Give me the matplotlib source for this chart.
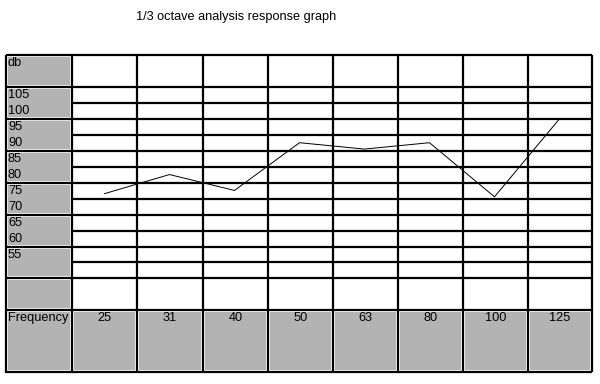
import matplotlib.pyplot as plt
from matplotlib.patches import Rectangle

# donnees du graphe
frequencies = ["25", "31", "40", "50", "63", "80", "100", "125"]
db_labels = [105, 100, 95, 90, 85, 80, 75, 70, 65, 60, 55]
response = [74, 80, 75, 90, 88, 90, 73, 97.5]

GRAY = "#b3b3b3"
FS = 9.2
# bords des colonnes / lignes du tableau (pixels)
x_cols = [6, 72, 137, 203, 268, 333, 398, 463, 528, 592]
y_rows = [55, 87, 103, 119, 135, 151, 167, 183, 199, 215, 231, 247, 262, 278, 310, 372]
db_top, db_bottom = 107.5, 47.5

plt.rcParams["font.family"] = ["Liberation Sans", "DejaVu Sans"]

fig = plt.figure(figsize=(6, 3.84), dpi=100)
ax = fig.add_axes([0, 0, 1, 1])
ax.set_xlim(0, 600)
ax.set_ylim(384, 0)
ax.axis("off")

# cellules grises de la colonne des labels
gray_cells = [(55, 87), (87, 119), (119, 151), (151, 183), (183, 215), (215, 247), (247, 278), (278, 310), (310, 372)]
for y0, y1 in gray_cells:
    ax.add_patch(Rectangle((x_cols[0] + 2, y0 + 2), x_cols[1] - x_cols[0] - 4, y1 - y0 - 4,
                           facecolor=GRAY, edgecolor="none"))
# ligne Frequency grise
for i in range(1, len(x_cols) - 1):
    ax.add_patch(Rectangle((x_cols[i] + 2, y_rows[-2] + 2), x_cols[i + 1] - x_cols[i] - 4,
                           y_rows[-1] - y_rows[-2] - 4, facecolor=GRAY, edgecolor="none"))

# lignes horizontales
for y in y_rows:
    ax.plot([x_cols[1], x_cols[-1]], [y, y], color="black", lw=1.6, solid_capstyle="butt")
for y0, y1 in gray_cells:
    ax.plot([x_cols[0], x_cols[1]], [y0, y0], color="black", lw=1.6, solid_capstyle="butt")
ax.plot([x_cols[0], x_cols[1]], [y_rows[-1], y_rows[-1]], color="black", lw=1.6)
# lignes verticales
for x in x_cols:
    ax.plot([x, x], [y_rows[0], y_rows[-1]], color="black", lw=1.6, solid_capstyle="butt")

# textes
ax.text(136, 17, "1/3 octave analysis response graph", fontsize=FS, va="center", ha="left")
ax.text(8, 57, "db", fontsize=FS, va="top", ha="left")
for k, v in enumerate(db_labels):
    yc = (y_rows[k + 1] + y_rows[k + 2]) / 2
    ax.text(8, yc, str(v), fontsize=FS, va="center", ha="left")
ax.text(8, 318, "Frequency", fontsize=FS, va="center", ha="left")
for i, f in enumerate(frequencies):
    xc = (x_cols[i + 1] + x_cols[i + 2]) / 2
    ax.text(xc, 318, f, fontsize=FS, va="center", ha="center")

# courbe de reponse
ax2 = fig.add_axes([x_cols[1] / 600, (384 - y_rows[13]) / 384,
                    (x_cols[-1] - x_cols[1]) / 600, (y_rows[13] - y_rows[1]) / 384])
ax2.set_xlim(0, len(frequencies))
ax2.set_ylim(db_bottom, db_top)
ax2.axis("off")
ax2.plot([i + 0.5 for i in range(len(frequencies))], response, color="black", lw=0.7)

plt.savefig("out.png", dpi=100)
